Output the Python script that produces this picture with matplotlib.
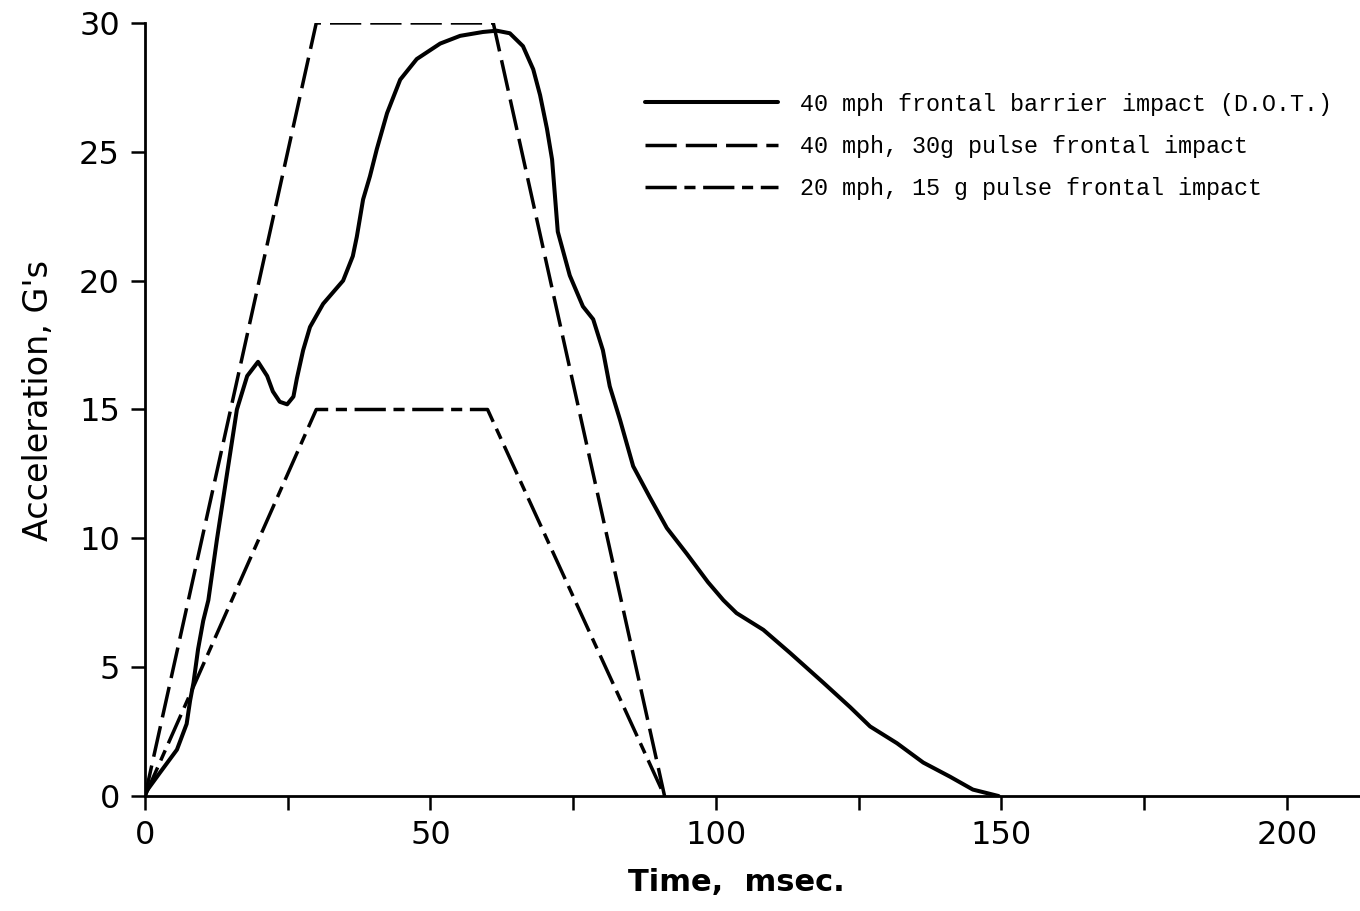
import numpy as np
import matplotlib
matplotlib.use('Agg')
import matplotlib.pyplot as plt
from matplotlib.ticker import MultipleLocator

# 40 mph frontal barrier impact (D.O.T.)
dot_time = [0, 0.3, 2.6, 5.6, 7.3, 7.9, 8.5, 9.3, 10.2, 11.1, 12.6, 14.4, 16.1, 17.9, 19.8,
            21.4, 22.4, 23.6, 24.9, 26.0, 26.6, 27.7, 28.9, 31.2, 34.7, 36.4, 37.1, 38.2,
            39.4, 40.6, 42.4, 44.7, 47.6, 51.7, 55.2, 59.2, 61.6, 63.9, 66.2, 68.0, 69.2,
            70.4, 71.3, 71.8, 72.3, 74.4, 76.7, 78.5, 80.2, 81.4, 83.2, 85.5, 88.4, 91.4,
            94.9, 98.6, 101.3, 103.6, 108.3, 113.0, 118.8, 123.5, 127.0, 131.7, 136.3,
            141.0, 145.0, 149.5]
dot_accel = [0, 0.2, 0.9, 1.8, 2.8, 3.7, 4.4, 5.7, 6.8, 7.6, 9.95, 12.55, 15.0, 16.3, 16.85,
             16.3, 15.7, 15.3, 15.2, 15.5, 16.2, 17.3, 18.2, 19.1, 20.0, 20.95, 21.7, 23.15,
             24.05, 25.1, 26.5, 27.8, 28.6, 29.2, 29.5, 29.65, 29.7, 29.6, 29.1, 28.2, 27.2,
             25.9, 24.7, 23.3, 21.9, 20.2, 19.0, 18.5, 17.3, 15.9, 14.6, 12.8, 11.6, 10.4,
             9.4, 8.3, 7.6, 7.1, 6.45, 5.55, 4.4, 3.45, 2.7, 2.05, 1.3,
             0.75, 0.25, 0]

# 40 mph, 30g pulse
pulse30_time = [0, 30, 61, 91]
pulse30_accel = [0, 30, 30, 0]

# 20 mph, 15 g pulse
pulse15_time = [0, 30, 60, 91]
pulse15_accel = [0, 15, 15, 0]

x_major = [0, 50, 100, 150, 200]
y_major = [0, 5, 10, 15, 20, 25, 30]

fig = plt.figure(figsize=(13.6, 9.11), dpi=100)
ax = fig.add_axes([0.1066, 0.1262, 0.8934, 0.8486])

ax.plot(dot_time, dot_accel, color='black', lw=2.9, solid_joinstyle='round',
        solid_capstyle='round', label='40 mph frontal barrier impact (D.O.T.)')
ax.plot(pulse30_time, pulse30_accel, color='black', lw=2.5, linestyle=(0, (9, 2.6)),
        label='40 mph, 30g pulse frontal impact')
ax.plot(pulse15_time, pulse15_accel, color='black', lw=2.5, linestyle=(0, (9, 2.2, 3.2, 2.2)),
        label='20 mph, 15 g pulse frontal impact')

ax.set_xlim(0, 212.8)
ax.set_ylim(0, 30)
ax.set_xticks(x_major)
ax.set_yticks(y_major)
ax.xaxis.set_minor_locator(MultipleLocator(25))

for s in ['top', 'right']:
    ax.spines[s].set_visible(False)
for s in ['left', 'bottom']:
    ax.spines[s].set_linewidth(2.0)

ax.tick_params(axis='both', which='both', direction='out', length=10, width=1.8,
               labelsize=23)
ax.tick_params(axis='x', which='major', pad=7)
ax.tick_params(axis='y', which='major', pad=8)

ax.set_xlabel('Time,  msec.', fontsize=22, fontweight='bold')
ax.set_ylabel("Acceleration, G's", fontsize=24)
ax.xaxis.set_label_coords(0.487, -0.093)
ax.yaxis.set_label_coords(-0.074, 0.512)

leg = ax.legend(loc='upper left', bbox_to_anchor=(0.404, 0.922), frameon=False,
                prop={'family': 'Liberation Mono', 'size': 16.8},
                handlelength=5.7, handletextpad=0.95, labelspacing=0.82,
                borderaxespad=0)

fig.savefig('out.png', dpi=100)
